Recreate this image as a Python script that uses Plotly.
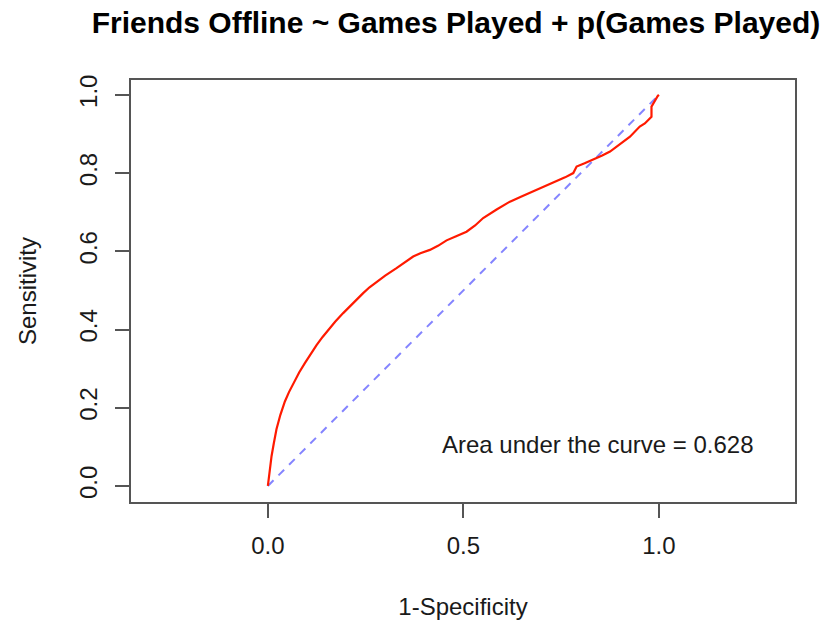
import plotly.graph_objects as go

# ROC curve for the model: false positive rate (1-specificity) vs. true positive rate
fpr = [0.0, 0.003, 0.006, 0.0094, 0.015, 0.022, 0.032, 0.0435, 0.054, 0.065,
       0.08, 0.0946, 0.11, 0.1245, 0.14, 0.154, 0.172, 0.1926, 0.218, 0.2437,
       0.26, 0.278, 0.30, 0.329, 0.35, 0.3716, 0.39, 0.4143, 0.435, 0.457,
       0.48, 0.508, 0.53, 0.5506, 0.585, 0.619, 0.65, 0.6785, 0.71, 0.738,
       0.76, 0.781, 0.7895, 0.81, 0.832, 0.855, 0.875, 0.90, 0.926, 0.951,
       0.964, 0.981, 0.981, 0.997, 1.0]
tpr = [0.0, 0.03, 0.052, 0.076, 0.108, 0.145, 0.182, 0.216, 0.24, 0.263,
       0.29, 0.314, 0.338, 0.36, 0.381, 0.399, 0.42, 0.442, 0.468, 0.493,
       0.508, 0.5225, 0.538, 0.557, 0.572, 0.5865, 0.595, 0.6036, 0.614, 0.628,
       0.638, 0.650, 0.666, 0.685, 0.707, 0.727, 0.741, 0.753, 0.766, 0.778,
       0.789, 0.80, 0.8166, 0.825, 0.834, 0.845, 0.855, 0.873, 0.893, 0.919,
       0.927, 0.944, 0.970, 0.997, 1.0]

# chance line
ref_x = [0.0, 1.0]
ref_y = [0.0, 1.0]

auc_value = 0.628

x_ticks = [0.0, 0.5, 1.0]
x_tick_labels = ["0.0", "0.5", "1.0"]
y_ticks = [0.0, 0.2, 0.4, 0.6, 0.8, 1.0]
y_tick_labels = ["0.0", "0.2", "0.4", "0.6", "0.8", "1.0"]

FONT = "Liberation Sans, Arial, Helvetica, sans-serif"
TEXT = "#1a1a1a"
FRAME = "#555555"

fig = go.Figure()

fig.add_trace(go.Scatter(
    x=ref_x, y=ref_y, mode="lines",
    line=dict(color="rgba(110,110,255,0.85)", width=2, dash="8px,7px"),
    showlegend=False, hoverinfo="skip",
))

fig.add_trace(go.Scatter(
    x=fpr, y=tpr, mode="lines",
    line=dict(color="#ff1a00", width=2.2),
    showlegend=False,
))

fig.add_annotation(
    x=0.844, y=0.105, xref="x", yref="y",
    text=f"Area under the curve = {auc_value:.3f}",
    showarrow=False, font=dict(family=FONT, size=24, color=TEXT),
    xanchor="center", yanchor="middle",
)

axis_common = dict(
    showline=True, linecolor=FRAME, linewidth=1.5, mirror=True,
    ticks="outside", ticklen=14, tickwidth=1.5, tickcolor=FRAME,
    showgrid=False, zeroline=False, automargin=False,
    tickfont=dict(family=FONT, size=24, color=TEXT),
)

fig.update_layout(
    width=839, height=620,
    margin=dict(l=131, r=44, t=80, b=118, autoexpand=False),
    paper_bgcolor="white", plot_bgcolor="white",
    title=dict(
        text="Friends Offline ~ Games Played + p(Games Played)",
        font=dict(family=FONT, size=30, color="#000000", weight="bold"),
        x=0.5435, xanchor="center", xref="container",
        y=1 - 22 / 620, yanchor="middle", yref="container",
    ),
    xaxis=dict(
        range=[-0.350, 1.348], tickvals=x_ticks, ticktext=x_tick_labels,
        ticklabelstandoff=7,
        title=dict(text="1-Specificity", font=dict(family=FONT, size=24, color=TEXT), standoff=41),
        **axis_common,
    ),
    yaxis=dict(
        range=[-0.041, 1.038], tickvals=y_ticks, ticktext=y_tick_labels,
        tickangle=-90, ticklabelstandoff=9,
        title=dict(text="Sensitivity", font=dict(family=FONT, size=24, color=TEXT), standoff=31),
        **axis_common,
    ),
)

fig.write_html("out.html")
